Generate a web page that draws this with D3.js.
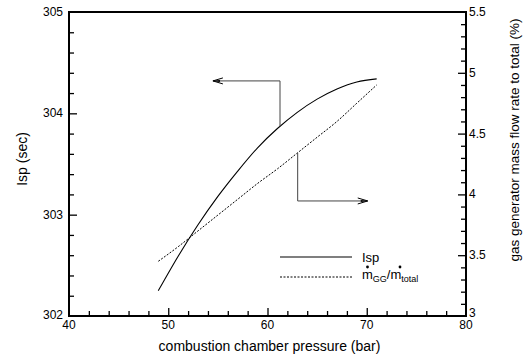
<!DOCTYPE html>
<html>
<head>
<meta charset="utf-8">
<script src="https://cdn.jsdelivr.net/npm/d3@7"></script>
<style>
body { margin: 0; background: #fff; }
svg text { font-family: Arial, "Liberation Sans", sans-serif; fill: #000; }
</style>
</head>
<body>
<script>
// chart values
var pressure = [49, 51, 53, 55, 57, 59, 61, 63, 65, 67, 69, 71];
var isp = [302.25, 302.59, 302.90, 303.18, 303.43, 303.66, 303.85, 304.01, 304.14, 304.24, 304.31, 304.34];
var flowRatio = [3.45, 3.57, 3.70, 3.83, 3.96, 4.09, 4.21, 4.34, 4.47, 4.60, 4.75, 4.90];

var xTicks = [40, 50, 60, 70, 80];
var yLeftTicks = [302, 303, 304, 305];
var yRightTicks = [3, 3.5, 4, 4.5, 5, 5.5];

// annotation arrows: x on curve, x at head, level of the horizontal leg
var ispArrow = { x0: 61.26, x1: 54.5, y: 304.32 };
var flowArrow = { x0: 63.04, x1: 70.1, y: 3.946 };

var width = 525, height = 355;
var margin = { top: 12, right: 59, bottom: 39, left: 69 };

var svg = d3.select("body").append("svg")
	.attr("width", width)
	.attr("height", height);

var x = d3.scaleLinear().domain([40, 80]).range([margin.left, width - margin.right]),
	yL = d3.scaleLinear().domain([302, 305]).range([height - margin.bottom, margin.top]),
	yR = d3.scaleLinear().domain([3, 5.5]).range([height - margin.bottom, margin.top]);

var pl = x.range()[0], pr = x.range()[1],
	pb = yL.range()[0], pt = yL.range()[1];

var xMinor = d3.range(42, 80, 2).filter(function (d) { return d % 10 != 0; });
var ylMinor = d3.range(1, 15).filter(function (d) { return d % 5 != 0; }).map(function (d) { return 302 + d * 0.2; });
var yrMinor = d3.range(1, 25).filter(function (d) { return d % 5 != 0; }).map(function (d) { return 3 + d * 0.1; });

var axisColor = "#000";

// inward ticks via d3.axis
function addAxis(axis, tx, ty) {
	var g = svg.append("g")
		.attr("transform", "translate(" + tx + "," + ty + ")")
		.call(axis);
	g.select(".domain").remove();
	g.selectAll(".tick line")
		.style("stroke", axisColor)
		.style("stroke-width", "1.3px");
}
addAxis(d3.axisBottom(x).tickValues(xMinor).tickSize(-5).tickFormat(""), 0, pb);
addAxis(d3.axisBottom(x).tickValues(xTicks.slice(1, -1)).tickSize(-8).tickFormat(""), 0, pb);
addAxis(d3.axisLeft(yL).tickValues(ylMinor).tickSize(-5).tickFormat(""), pl, 0);
addAxis(d3.axisLeft(yL).tickValues(yLeftTicks.slice(1, -1)).tickSize(-8).tickFormat(""), pl, 0);
addAxis(d3.axisRight(yR).tickValues(yrMinor).tickSize(-5).tickFormat(""), pr, 0);
addAxis(d3.axisRight(yR).tickValues(yRightTicks.slice(1, -1)).tickSize(-8).tickFormat(""), pr, 0);

// frame
svg.append("rect")
	.attr("x", pl).attr("y", pt)
	.attr("width", pr - pl).attr("height", pb - pt)
	.style("fill", "none")
	.style("stroke", axisColor)
	.style("stroke-width", "2px");

// tick labels
var fs = 12;
svg.selectAll(".xlab")
	.data(xTicks)
	.enter().append("text")
	.attr("class", "xlab")
	.attr("x", function (d) { return x(d); })
	.attr("y", pb + 13)
	.attr("text-anchor", "middle")
	.style("font-size", fs + "px")
	.text(function (d) { return d; });

svg.selectAll(".yllab")
	.data(yLeftTicks)
	.enter().append("text")
	.attr("class", "yllab")
	.attr("x", pl - 6)
	.attr("y", function (d, i) { return yL(d) + (i == 0 ? 3 : 4); })
	.attr("text-anchor", "end")
	.style("font-size", fs + "px")
	.text(function (d) { return d; });

svg.selectAll(".yrlab")
	.data(yRightTicks)
	.enter().append("text")
	.attr("class", "yrlab")
	.attr("x", pr + 3)
	.attr("y", function (d, i) { return yR(d) + (i == 0 ? 1 : 4); })
	.attr("text-anchor", "start")
	.style("font-size", fs + "px")
	.text(function (d) { return d; });

// axis titles
svg.append("text")
	.attr("x", (pl + pr) / 2 + 2)
	.attr("y", 351)
	.attr("text-anchor", "middle")
	.style("font-size", "14px")
	.text("combustion chamber pressure (bar)");

svg.append("text")
	.attr("transform", "translate(27,159)rotate(-90)")
	.attr("text-anchor", "middle")
	.style("font-size", "14px")
	.text("Isp (sec)");

svg.append("text")
	.attr("transform", "translate(519,140)rotate(-90)")
	.attr("text-anchor", "middle")
	.style("font-size", "13.5px")
	.text("gas generator mass flow rate to total (%)");

// curves
var ispLine = d3.line()
	.x(function (d, i) { return x(pressure[i]); })
	.y(function (d) { return yL(d); })
	.curve(d3.curveMonotoneX);

var flowLine = d3.line()
	.x(function (d, i) { return x(pressure[i]); })
	.y(function (d) { return yR(d); })
	.curve(d3.curveMonotoneX);

svg.append("path")
	.attr("d", ispLine(isp))
	.style("fill", "none")
	.style("stroke", "#000")
	.style("stroke-width", "1.1px");

svg.append("path")
	.attr("d", flowLine(flowRatio))
	.style("fill", "none")
	.style("stroke", "#000")
	.style("stroke-width", "1px")
	.style("stroke-dasharray", "2,1.5");

// arrows
function interp(xs, ys, v) {
	for (var i = 1; i < xs.length; i++) {
		if (v <= xs[i]) {
			var t = (v - xs[i - 1]) / (xs[i] - xs[i - 1]);
			return ys[i - 1] + t * (ys[i] - ys[i - 1]);
		}
	}
	return ys[ys.length - 1];
}

function arrow(px, py0, py1, hx, dir) {
	var g = svg.append("g");
	g.append("path").attr("d", "M" + px + "," + py0 + "V" + py1 + "H" + hx)
		.style("fill", "none").style("stroke", "#444").style("stroke-width", "1px");
	g.append("path")
		.attr("d", "M" + (hx - dir * 10) + "," + (py1 - 3) + "L" + hx + "," + py1 + "L" + (hx - dir * 10) + "," + (py1 + 3))
		.style("fill", "none").style("stroke", "#000").style("stroke-width", "1px");
	g.append("path")
		.attr("d", "M" + (hx - dir * 7) + "," + (py1 - 1) + "L" + hx + "," + py1 + "L" + (hx - dir * 7) + "," + (py1 + 1) + "Z")
		.style("fill", "#000").style("stroke", "none");
}

arrow(x(ispArrow.x0), yL(interp(pressure, isp, ispArrow.x0)), yL(ispArrow.y), x(ispArrow.x1), -1);
arrow(x(flowArrow.x0), yR(interp(pressure, flowRatio, flowArrow.x0)), yR(flowArrow.y), x(flowArrow.x1), 1);

// legend
var lg = svg.append("g").attr("transform", "translate(280,257)");
lg.append("line").attr("x1", 0).attr("x2", 72).attr("y1", 0).attr("y2", 0)
	.style("stroke", "#000").style("stroke-width", "1.1px");
lg.append("text").attr("x", 82).attr("y", 5).style("font-size", "13px").text("Isp");
lg.append("line").attr("x1", 0).attr("x2", 72).attr("y1", 20).attr("y2", 20)
	.style("stroke", "#000").style("stroke-width", "1px").style("stroke-dasharray", "2,1.5");
var t2 = lg.append("text").attr("x", 82).attr("y", 22).style("font-size", "13px");
t2.append("tspan").text("m");
t2.append("tspan").attr("dy", 3).style("font-size", "9px").text("GG");
t2.append("tspan").attr("dy", -3).text("/m");
t2.append("tspan").attr("dy", 3).style("font-size", "9px").text("total");
// dots over the m's
lg.append("circle").attr("cx", 87.5).attr("cy", 10).attr("r", 1.4).style("fill", "#000");
lg.append("circle").attr("cx", 120).attr("cy", 10).attr("r", 1.4).style("fill", "#000");
</script>
</body>
</html>
